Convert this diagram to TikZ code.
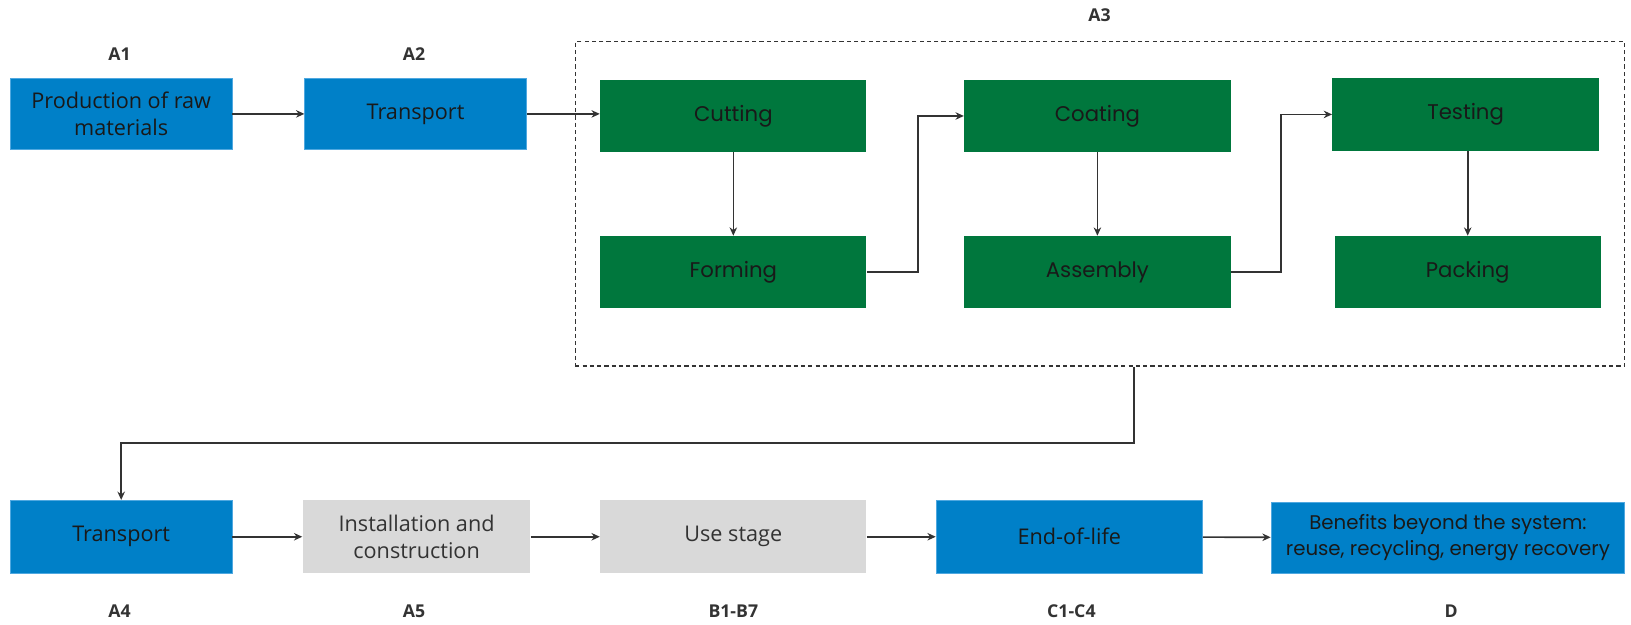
\documentclass[tikz,border=0pt]{standalone}
\usepackage{fontspec}
\setmainfont{Open Sans}
\newfontfamily\gfont{Poppins}
\usetikzlibrary{arrows.meta}
\definecolor{bluef}{HTML}{0080C8}
\definecolor{blueb}{HTML}{4FA8E0}
\definecolor{greenf}{HTML}{00773D}
\definecolor{grayf}{HTML}{D9D9D9}
\definecolor{linec}{HTML}{333333}
\begin{document}
\begin{tikzpicture}[x=0.5pt,y=-0.5pt,
  box/.style={rectangle, inner sep=2pt, align=center, font=\fontsize{10.4}{13}\selectfont},
  bw/.style={minimum width={#1*0.5pt}},
  bh/.style={minimum height={#1*0.5pt}},
  bluebox/.style={box, fill=bluef, draw=blueb, line width=0.4pt, text=black!90},
  greenbox/.style={box, fill=greenf, draw=none, text=black!90, font=\gfont\fontsize{10.2}{12}\selectfont},
  graybox/.style={box, fill=grayf, draw=none, text=linec},
  lab/.style={font=\bfseries\fontsize{8.5}{10}\selectfont, text=linec},
  arr/.style={draw=linec, line width=0.8pt, -{Stealth[length=4pt,width=3.6pt]}},
  dashbox/.style={draw=linec, dashed, dash pattern=on 2pt off 1.5pt, line width=0.65pt, inner sep=0pt}
]
\useasboundingbox[fill=white] (0,0) rectangle (1568,600);

% dashed A3 frame
\node[dashbox, bw=1009, bh=312] (a3box) at (1057.5,196) {};

% top row
\node[bluebox, bw=213, bh=69] (a1) at (116.5,109.5) {Production of raw\\materials};
\node[bluebox, bw=213, bh=69] (a2) at (399.5,109.5) {Transport};
\node[greenbox, bw=256, bh=69] (cut) at (705,111.5) {Cutting};
\node[greenbox, bw=256, bh=69] (form) at (705,261.5) {Forming};
\node[greenbox, bw=256, bh=69] (coat) at (1055,111.5) {Coating};
\node[greenbox, bw=256, bh=69] (asm) at (1055,261.5) {Assembly};
\node[greenbox, bw=256, bh=70] (test) at (1409,110) {Testing};
\node[greenbox, bw=256, bh=69] (pack) at (1411,261.5) {Packing};

% labels top
\node[lab] (la1) at (115,52) {A1};
\node[lab] (la2) at (398,52) {A2};
\node[lab] (la3) at (1057,15) {A3};

% bottom row
\node[bluebox, bw=213, bh=70] (a4) at (116.5,516) {Transport};
\node[graybox, bw=219, bh=70] (a5) at (400.5,516) {Installation and\\construction};
\node[graybox, bw=256, bh=70] (b) at (705,516) {Use stage};
\node[bluebox, bw=256, bh=70] (c) at (1028,516) {End-of-life};
\node[bluebox, bw=340, bh=68, font=\gfont\fontsize{9.5}{12.5}\selectfont] (d) at (1392,517) {Benefits beyond the system:\\reuse, recycling, energy recovery};

% labels bottom
\node[lab] (la4) at (115,588) {A4};
\node[lab] (la5) at (398,588) {A5};
\node[lab] (lb) at (705,588) {B1-B7};
\node[lab] (lc) at (1030,588) {C1-C4};
\node[lab] (ld) at (1395,588) {D};

% connectors
\draw[arr] (a1) -- (a2);
\draw[arr] (a2.east) -- (a2.east -| cut.west);
\draw[arr] (cut) -- (form);
\draw[arr] (form.east) -- ++(49,0) |- (coat.west);
\draw[arr] (coat) -- (asm);
\draw[arr] (asm.east) -- ++(48,0) |- (test.west);
\draw[arr] (test.south -| pack.north) -- (pack.north);
\draw[arr] ([xshift=16.25pt]a3box.south) -- ++(0,73) -| (a4.north);
\draw[arr] (a4) -- (a5);
\draw[arr] (a5) -- (b);
\draw[arr] (b) -- (c);
\draw[arr] (c) -- (d);
\end{tikzpicture}
\end{document}
